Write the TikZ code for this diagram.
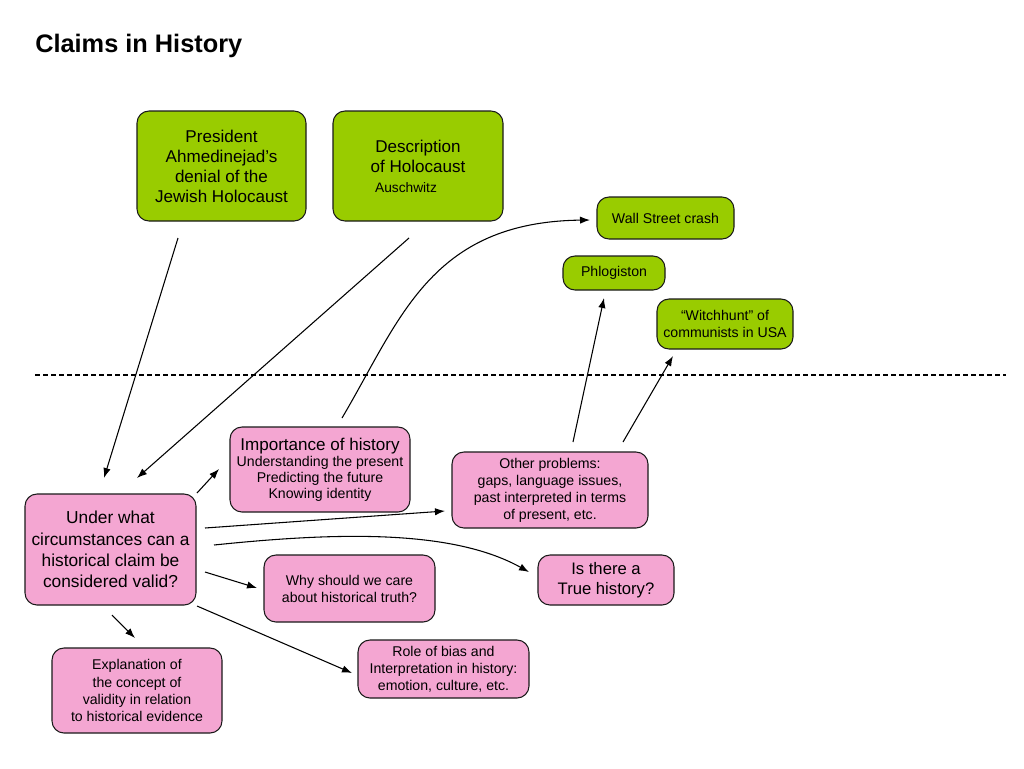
\documentclass[tikz,border=0pt]{standalone}
\usepackage{fontspec}
\setmainfont{Liberation Sans}
\usetikzlibrary{arrows.meta}
\definecolor{boxgreen}{HTML}{99CC00}
\definecolor{boxpink}{HTML}{F4A6D2}
\definecolor{boxline}{HTML}{1A1A1A}
\tikzset{
  box/.style={draw=boxline, line width=0.8pt, rounded corners=9pt, align=center, inner sep=0pt, text=black},
  gbox/.style={box, fill=boxgreen},
  pbox/.style={box, fill=boxpink},
  fs10/.style={font=\fontsize{10.6}{12.8}\selectfont},
  fs12/.style={font=\fontsize{12.8}{15}\selectfont},
  fs13/.style={font=\fontsize{13}{16}\selectfont},
  conn/.style={draw=black, line width=0.8pt, -{Latex[length=7.5pt,width=5.5pt]}}
}
\begin{document}
\begin{tikzpicture}[x=0.75pt,y=-0.75pt]
\useasboundingbox[fill=white] (0,0) rectangle (1024,768);
\node[anchor=base west, inner sep=0pt, font=\bfseries\fontsize{19}{22}\selectfont] (title) at (35,52) {Claims in History};

\node[gbox, fs12, minimum width=126.75pt, minimum height=82.5pt] (ahmed) at (221.5,166) {President\\Ahmedinejad’s\\denial of the\\Jewish Holocaust};
\node[gbox, fs12, minimum width=127.5pt, minimum height=82.5pt] (desc) at (418,166) {Description\\of Holocaust\\{\fontsize{10.3}{11}\selectfont Auschwitz\hspace*{18pt}}};
\node[gbox, fs10, minimum width=102.75pt, minimum height=31.5pt] (wall) at (665.5,218) {Wall Street crash};
\node[gbox, fs10, minimum width=76.5pt, minimum height=25.5pt] (phlog) at (614,273) {Phlogiston};
\node[gbox, fs10, minimum width=102pt, minimum height=37.5pt] (witch) at (725,324) {“Witchhunt” of\\communists in USA};

\coordinate (dl) at (35,375);
\coordinate (dr) at (1006,375);
\draw[line width=0.8pt, dash pattern=on 3.5pt off 2.5pt] (dl) -- (dr);

\node[pbox, minimum width=135pt, minimum height=63.75pt] (imp) at (320,469.5) {{\fontsize{12.8}{15}\selectfont Importance of history}\\[0pt]{\fontsize{10.6}{12.6}\selectfont Understanding the present}\\{\fontsize{10.6}{12.6}\selectfont Predicting the future}\\{\fontsize{10.6}{12.6}\selectfont Knowing identity}};
\node[pbox, fs10, minimum width=147pt, minimum height=57pt] (other) at (550,490) {Other problems:\\gaps, language issues,\\past interpreted in terms\\of present, etc.};
\node[pbox, fs13, minimum width=128.25pt, minimum height=83.25pt] (under) at (110.5,549.5) {Under what\\circumstances can a\\historical claim be\\considered valid?};
\node[pbox, fs10, minimum width=128.25pt, minimum height=50.25pt] (why) at (349.5,588.5) {Why should we care\\about historical truth?};
\node[pbox, font=\fontsize{12.5}{15}\selectfont, minimum width=102pt, minimum height=37.5pt] (true) at (606,580) {Is there a\\True history?};
\node[pbox, fs10, minimum width=128.25pt, minimum height=43.5pt] (role) at (443.5,669) {Role of bias and\\Interpretation in history:\\emotion, culture, etc.};
\node[pbox, fs10, minimum width=127.5pt, minimum height=63.75pt] (expl) at (137,690.5) {Explanation of\\the concept of\\validity in relation\\to historical evidence};

% arrow endpoints
\coordinate (a1s) at (178,238); \coordinate (a1e) at (104,478);
\coordinate (a2s) at (409,238); \coordinate (a2e) at (137,478);
\coordinate (a3s) at (342,418); \coordinate (a3e) at (590,220);
\coordinate (a4s) at (573,442); \coordinate (a4e) at (604,298);
\coordinate (a5s) at (623,442); \coordinate (a5e) at (673,356);
\coordinate (a6s) at (197,493); \coordinate (a6e) at (219,469);
\coordinate (a7s) at (205,528); \coordinate (a7e) at (445,511);
\coordinate (a8s) at (214,545); \coordinate (a8e) at (529,572);
\coordinate (a9s) at (205,572); \coordinate (a9e) at (257,588);
\coordinate (a10s) at (197,606); \coordinate (a10e) at (352,673);
\coordinate (a11s) at (112,615); \coordinate (a11e) at (135,638);

\draw[conn] (a1s) -- (a1e);
\draw[conn] (a2s) -- (a2e);
\draw[conn] (a3s) .. controls (400,320) and (430,222) .. (a3e);
\draw[conn] (a4s) -- (a4e);
\draw[conn] (a5s) -- (a5e);
\draw[conn] (a6s) -- (a6e);
\draw[conn] (a7s) -- (a7e);
\draw[conn] (a8s) .. controls (330,533) and (450,528) .. (a8e);
\draw[conn] (a9s) -- (a9e);
\draw[conn] (a10s) -- (a10e);
\draw[conn] (a11s) -- (a11e);
\end{tikzpicture}
\end{document}
